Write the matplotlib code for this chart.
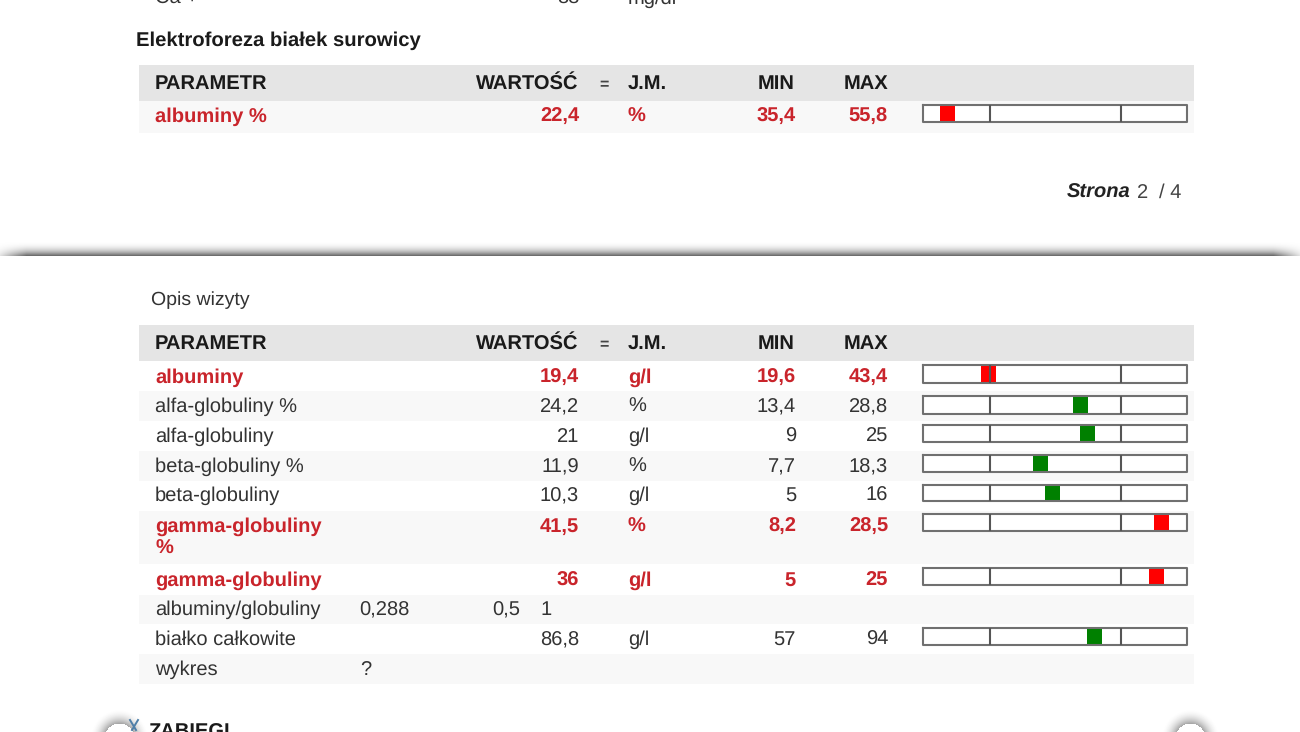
import numpy as np
import matplotlib
matplotlib.use("Agg")
import matplotlib.pyplot as plt

plt.rcParams['font.family'] = ['Liberation Sans', 'DejaVu Sans']
plt.rcParams['text.hinting'] = 'none'

# top table
top_names = ["albuminy %"]
top_values = [22.4]
top_units = ["%"]
top_mins = [35.4]
top_maxs = [55.8]
top_flags = [True]

# bottom table
names = ["albuminy", "alfa-globuliny %", "alfa-globuliny", "beta-globuliny %", "beta-globuliny",
         "gamma-globuliny", "gamma-globuliny", "białko całkowite"]
values = [19.4, 24.2, 21, 11.9, 10.3, 41.5, 36, 86.8]
units = ["g/l", "%", "g/l", "%", "g/l", "%", "g/l", "g/l"]
mins = [19.6, 13.4, 9, 7.7, 5, 8.2, 5, 57]
maxs = [43.4, 28.8, 25, 18.3, 16, 28.5, 25, 94]
flags = [True, False, False, False, False, True, True, False]

# page layout, in pixels of the screenshot
base_top = [122]
gauge_top = [(105, 122)]
base_rows = [383, 412, 442, 472, 501, 532, 586, 645]
gauge_rows = [(365, 383), (396, 414), (425, 442), (455, 472), (485, 501), (514, 531), (568, 585), (628, 645)]

RED = "#c9242b"
DARK = "#333333"
FS = 14.5

fig = plt.figure(figsize=(13, 7.32), dpi=100)
ax = fig.add_axes([0, 0, 1, 1])
ax.set_xlim(0, 1300)
ax.set_ylim(732, 0)
ax.axis('off')


def fmt(v):
    return str(v).replace('.', ',')


def gauge_x(v, lo, hi):
    # the range sits in the middle, both sides outside it are at half scale
    t = (v - lo) / (hi - lo)
    if t < 0:
        return 989 + t * 65.5
    if t > 1:
        return 1120 + (t - 1) * 65.5
    return 989 + t * 131


def band(y0, y1, color):
    ax.fill_between([139, 1194], y0, y1, color=color, lw=0, zorder=1)


def header(y):
    ax.text(155, y, "PARAMETR", fontsize=FS, fontweight='bold', color='#1a1a1a')
    ax.text(578, y, "WARTOŚĆ", fontsize=FS, fontweight='bold', color='#1a1a1a', ha='right')
    ax.text(604, y, "=", fontsize=FS - 3, fontweight='bold', color='#444444', ha='center')
    ax.text(628, y, "J.M.", fontsize=FS, fontweight='bold', color='#1a1a1a')
    ax.text(795, y, "MIN", fontsize=FS, fontweight='bold', color='#1a1a1a', ha='right')
    ax.text(888, y, "MAX", fontsize=FS, fontweight='bold', color='#1a1a1a', ha='right')


def row(y, name, val, unit, lo, hi, flag, gy):
    c = RED if flag else DARK
    w = 'bold' if flag else 'normal'
    ax.text(155, y, name, fontsize=FS, fontweight=w, color=c)
    ax.text(579, y, fmt(val), fontsize=FS, fontweight=w, color=c, ha='right')
    ax.text(628, y, unit, fontsize=FS, fontweight=w, color=c)
    ax.text(796, y, fmt(lo), fontsize=FS, fontweight=w, color=c, ha='right')
    ax.text(888, y, fmt(hi), fontsize=FS, fontweight=w, color=c, ha='right')
    # gauge box
    ax.fill_between([923, 1187], gy[0], gy[1], color='white', lw=0, zorder=2)
    ax.bar(gauge_x(val, lo, hi), gy[1] - gy[0], 15, bottom=gy[0],
           color='#ff0000' if flag else '#008000', lw=0, zorder=3)
    ax.plot([923, 1187, 1187, 923, 923], [gy[0], gy[0], gy[1], gy[1], gy[0]], color='#707070', lw=1.5, zorder=4)
    ax.vlines([990, 1121], gy[0], gy[1], color='#555555', lw=1.5, zorder=4)


def corner(cx):
    # round corner of the next panel with its shadow
    yy, xx = np.mgrid[700:732, cx - 30:cx + 30]
    r = np.hypot(xx - cx, yy - 738)
    blob = 1 - 0.5 * np.clip((30 - r) / 18, 0, 1) ** 2
    blob[r < 15] = 1
    ax.imshow(blob, cmap='gray', vmin=0, vmax=1, extent=(cx - 30, cx + 30, 732, 700), aspect='auto', zorder=1)


# clipped row from the previous page part
ax.text(155, 4, "Ca +", fontsize=FS, color=DARK)
ax.text(579, 4, "88", fontsize=FS, color=DARK, ha='right')
ax.text(628, 4, "mg/dl", fontsize=FS, color=DARK)

ax.text(136, 46, "Elektroforeza białek surowicy", fontsize=14.6, fontweight='bold', color='#1a1a1a')
band(65, 101, '#e5e5e5')
band(101, 133, '#f8f8f8')
header(89)
for i in range(len(top_names)):
    row(base_top[i], top_names[i], top_values[i], top_units[i], top_mins[i], top_maxs[i], top_flags[i], gauge_top[i])

ax.text(1130, 198, "Strona", fontsize=FS, fontweight='bold', style='italic', color='#222222', ha='right')
ax.text(1137, 198, "2", fontsize=FS, color='#444444')
ax.text(1159, 198, "/ 4", fontsize=FS, color='#444444')

# shadow between the two screens
shadow = np.linspace(0, 1, 40) ** 2.5
fade = np.minimum(1, np.minimum(np.linspace(0.2, 40, 1300), np.linspace(40, 0.2, 1300)))
ax.imshow(1 - 0.6 * shadow[:, None] * fade[None, :], cmap='gray', vmin=0, vmax=1,
          extent=(0, 1300, 256, 240), aspect='auto', zorder=1)

ax.text(151, 305, "Opis wizyty", fontsize=14, color=DARK)
band(325, 361, '#e5e5e5')
for y0, y1 in [(391, 421), (451, 481), (511, 564), (595, 624), (654, 684)]:
    band(y0, y1, '#f8f8f8')
header(349)
for i in range(len(names)):
    row(base_rows[i], names[i], values[i], units[i], mins[i], maxs[i], flags[i], gauge_rows[i])
ax.text(155, 554, "%", fontsize=FS, fontweight='bold', color=RED)

# rows that don't follow the columns
ax.text(155, 615, "albuminy/globuliny", fontsize=FS, color=DARK)
ax.text(359, 615, "0,288", fontsize=FS, color=DARK)
ax.text(492, 615, "0,5", fontsize=FS, color=DARK)
ax.text(552, 615, "1", fontsize=FS, color=DARK, ha='right')
ax.text(155, 675, "wykres", fontsize=FS, color=DARK)
ax.text(360, 675, "?", fontsize=FS, color=DARK)

corner(119)
corner(1190)
ax.set_xlim(0, 1300)
ax.set_ylim(732, 0)

ax.plot([130, 136], [720, 730], color='#4f7fa8', lw=1.4)
ax.plot([138, 132], [720, 730], color='#4f7fa8', lw=1.4)
ax.text(148, 738, "ZABIEGI", fontsize=FS, fontweight='bold', color='#1a1a1a')

fig.savefig("out.png", dpi=100)
